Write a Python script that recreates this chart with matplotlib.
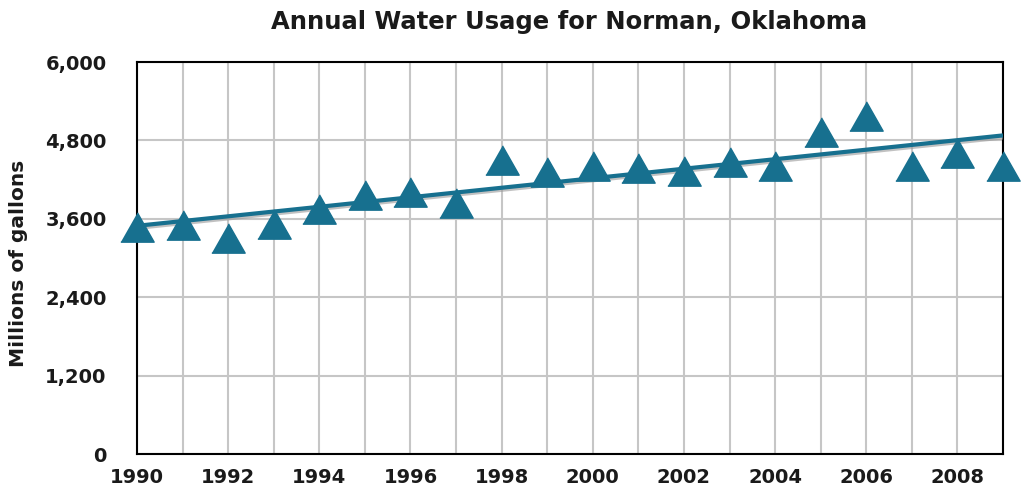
import numpy as np
import matplotlib.pyplot as plt
import matplotlib.patheffects as pe

# Annual water usage, millions of gallons
years = list(range(1990, 2010))
usage = [3470, 3505, 3300, 3520, 3756, 3959, 4010, 3848, 4505, 4316,
         4403, 4372, 4330, 4464, 4413, 4933, 5172, 4403, 4612, 4403]
y_ticks = [0, 1200, 2400, 3600, 4800, 6000]
x_ticks = list(range(1990, 2010, 2))

teal = '#17708f'
ink = '#1a1a1a'
plt.rcParams['font.family'] = ['DejaVu Sans']

fig = plt.figure(figsize=(10.21, 4.93), dpi=100)
ax = fig.add_axes([0.1342, 0.0791, 0.8482, 0.7951])

# linear trend line with a soft grey shadow
coef = np.polyfit(years, usage, 1)
trend = np.polyval(coef, [years[0], years[-1]])
ax.plot([years[0], years[-1]], trend, color=teal, lw=3, zorder=3,
        solid_capstyle='butt',
        path_effects=[pe.SimpleLineShadow(offset=(0, -1.5), shadow_color='#999999', alpha=0.6),
                      pe.Normal()])

tri = [(-1, -0.88), (1, -0.88), (0, 0.88)]
ax.plot(years, usage, linestyle='none', marker=tri, markersize=24,
        color=teal, zorder=4, clip_on=False)

ax.set_xlim(1990, 2009)
ax.set_ylim(0, 6000)
ax.set_xticks(years, minor=True)
ax.set_xticks(x_ticks)
ax.set_xticklabels([str(x) for x in x_ticks], fontsize=14, fontweight='bold', color=ink)
ax.set_yticks(y_ticks)
ax.set_yticklabels(['{:,}'.format(v) for v in y_ticks], fontsize=14, fontweight='bold', color=ink)
ax.tick_params(axis='both', which='both', length=0)
ax.tick_params(axis='y', pad=22)
ax.tick_params(axis='x', pad=10)

ax.grid(True, which='both', color='#c6c6c6', lw=1.5, zorder=0)
ax.set_axisbelow(True)
for s in ax.spines.values():
    s.set_color('black')
    s.set_linewidth(1.5)

fig.text(19 / 1021, 1 - 263 / 493, 'Millions of gallons', rotation=90,
         ha='center', va='center', fontsize=14.5, fontweight='bold', color=ink)
fig.text(0.557, 0.955, 'Annual Water Usage for Norman, Oklahoma',
         ha='center', va='center', fontsize=17.5, fontweight='bold', color=ink)

fig.savefig('out.png', dpi=100)
